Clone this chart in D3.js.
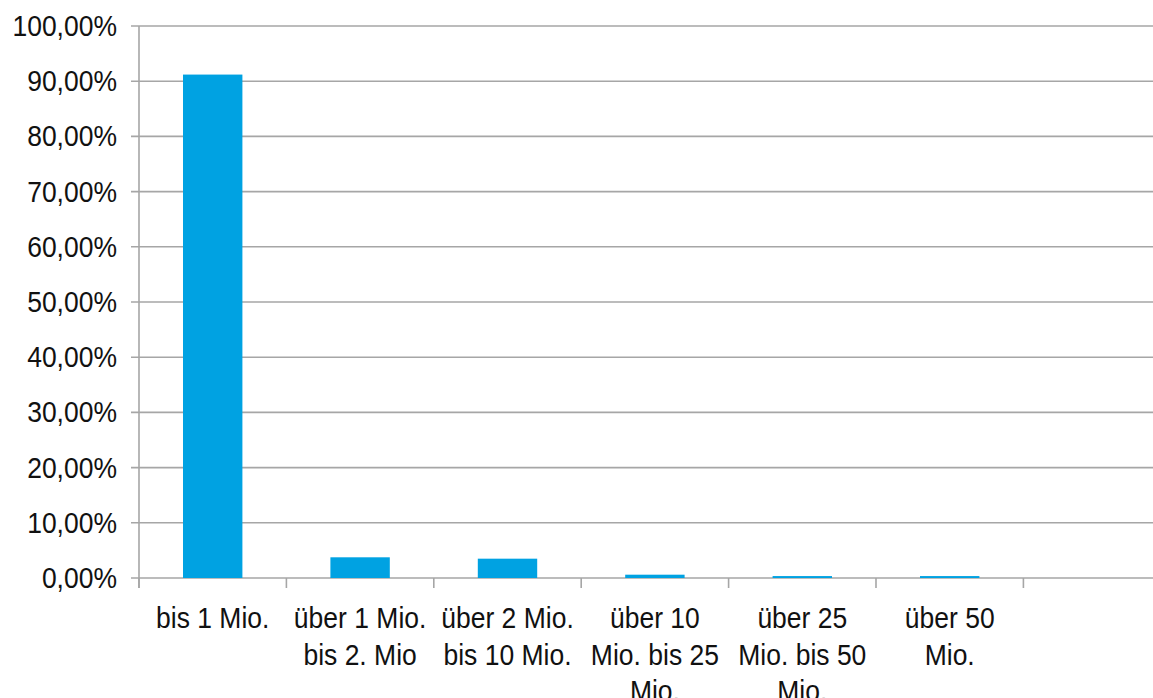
<!DOCTYPE html>
<html>
<head>
<meta charset="utf-8">
<script src="https://cdn.jsdelivr.net/npm/d3@7"></script>
<style>
  body { margin: 0; background: #fff; }
  text { font-family: "Liberation Sans", Arial, sans-serif; fill: #111; }
</style>
</head>
<body>
<div id="chart"></div>
<script>
// categories (last slot is empty in the original chart)
var categories = ["bis 1 Mio.", "über 1 Mio. bis 2. Mio", "über 2 Mio. bis 10 Mio.",
                  "über 10 Mio. bis 25 Mio.", "über 25 Mio. bis 50 Mio.", "über 50 Mio.", ""];
var labelLines = [["bis 1 Mio."], ["über 1 Mio.", "bis 2. Mio"], ["über 2 Mio.", "bis 10 Mio."],
                  ["über 10", "Mio. bis 25", "Mio."], ["über 25", "Mio. bis 50", "Mio."],
                  ["über 50", "Mio."], []];
var values = [91.2, 3.75, 3.5, 0.6, 0.35, 0.35, null];
var yTicks = [0, 10, 20, 30, 40, 50, 60, 70, 80, 90, 100];

var canvasW = 1153, canvasH = 698;
var plotLeft = 139, plotTop = 26, plotBottom = 578;

var svg = d3.select("#chart").append("svg")
  .attr("width", canvasW)
  .attr("height", canvasH);

var y = d3.scaleLinear().domain([0, 100]).range([plotBottom, plotTop]);
var x = d3.scaleBand().domain(categories)
  .range([plotLeft, plotLeft + 7 * 147.4])
  .paddingInner(0.597).paddingOuter(0.2985);
var half = (x.step() - x.bandwidth()) / 2;

var fmt = function(v){ return d3.format(".2f")(v).replace(".", ",") + "%"; };

// gridlines
svg.append("g").selectAll("line")
  .data(yTicks).enter().append("line")
  .attr("x1", plotLeft - 8).attr("x2", canvasW)
  .attr("y1", function(d){ return y(d); })
  .attr("y2", function(d){ return y(d); })
  .attr("stroke", "#a6a6a6").attr("stroke-width", 1.6);

// y axis line
svg.append("line")
  .attr("x1", plotLeft).attr("x2", plotLeft)
  .attr("y1", y(100)).attr("y2", y(0) + 10)
  .attr("stroke", "#a6a6a6").attr("stroke-width", 1.6);

// x ticks at category boundaries
svg.append("g").selectAll("line")
  .data(categories).enter().append("line")
  .attr("x1", function(d){ return x(d) - half; })
  .attr("x2", function(d){ return x(d) - half; })
  .attr("y1", y(0)).attr("y2", y(0) + 10)
  .attr("stroke", "#a6a6a6").attr("stroke-width", 1.6);

// y labels
svg.append("g").selectAll("text")
  .data(yTicks).enter().append("text")
  .attr("text-anchor", "end")
  .attr("transform", function(d){ return "translate(117," + (y(d) + 10) + ") scale(1,1.1)"; })
  .style("font-size", "26.5px")
  .text(fmt);

// bars
svg.append("g").selectAll("rect")
  .data(categories.filter(function(c, i){ return values[i] != null; })).enter().append("rect")
  .attr("x", function(d){ return x(d); })
  .attr("width", x.bandwidth())
  .attr("y", function(d){ return y(values[categories.indexOf(d)]); })
  .attr("height", function(d){ return y(0) - y(values[categories.indexOf(d)]); })
  .attr("fill", "#00a2e2");

// category labels
var lab = svg.append("g").selectAll("g")
  .data(categories).enter().append("g");
lab.each(function(d, i){
  var g = d3.select(this);
  labelLines[i].forEach(function(t, j){
    g.append("text")
      .attr("text-anchor", "middle")
      .attr("transform", "translate(" + (x(d) + x.bandwidth() / 2) + "," + (628 + j * 36.5) + ") scale(1,1.1)")
      .style("font-size", "26.5px")
      .text(t);
  });
});
</script>
</body>
</html>
